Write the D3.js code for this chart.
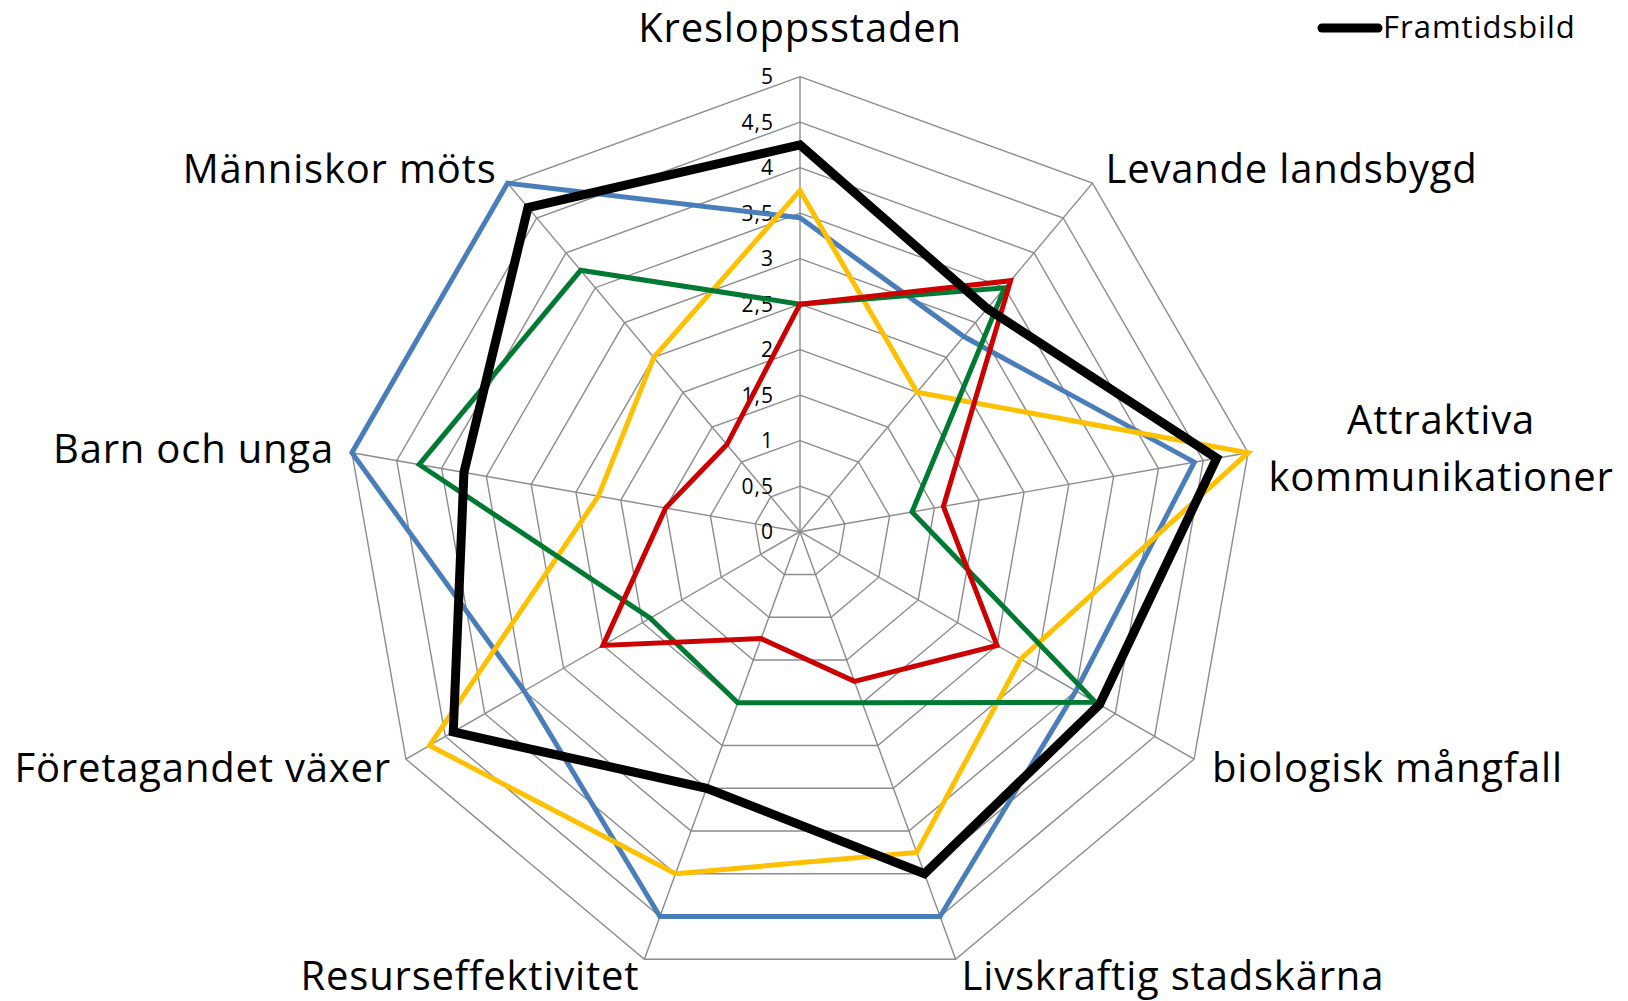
<!DOCTYPE html>
<html>
<head>
<meta charset="utf-8">
<script src="https://cdn.jsdelivr.net/npm/d3@7"></script>
<style>
  body { margin: 0; background: #fff; }
  text { font-family: "Open Sans", sans-serif; fill: #000; }
</style>
</head>
<body>
<svg id="chart"></svg>
<script>
// axes, clockwise from the top
const categories = ["Kresloppsstaden", "Levande landsbygd", "Attraktiva kommunikationer",
    "biologisk mångfall", "Livskraftig stadskärna", "Resurseffektivitet",
    "Företagandet växer", "Barn och unga", "Människor möts"];

const blueValues   = [3.45, 2.8, 4.4, 3.5, 4.5, 4.5, 3.5, 5, 5];
const yellowValues = [3.75, 2.0, 5.0, 2.8, 3.75, 4.0, 4.7, 2.25, 2.5];
const greenValues  = [2.5, 3.5, 1.25, 3.75, 2.0, 2.0, 1.9, 4.25, 3.75];
const redValues    = [2.5, 3.6, 1.6, 2.5, 1.75, 1.25, 2.5, 1.5, 1.25];
const blackValues  = [4.25, 3.2, 4.65, 3.8, 4.0, 3.0, 4.4, 3.75, 4.65];

const tickValues = [0, 0.5, 1, 1.5, 2, 2.5, 3, 3.5, 4, 4.5, 5];
const tickLabels = ["0", "0,5", "1", "1,5", "2", "2,5", "3", "3,5", "4", "4,5", "5"];

const legendLabel = "Framtidsbild";

const width = 1628, height = 1001;
const cx = 800, cy = 531.7, radius = 455;

const svg = d3.select('#chart')
    .attr('width', width)
    .attr('height', height);

const chart = svg.append('g')
    .attr('transform', `translate(${cx}, ${cy})`);

const rscale = d3.scaleLinear().domain([0, 5]).range([0, radius]);
const ascale = d3.scaleLinear().domain([0, categories.length]).range([0, 2 * Math.PI]);

const point = (v, i) => [rscale(v) * Math.sin(ascale(i)), -rscale(v) * Math.cos(ascale(i))];

// grid rings
const ring = d3.line().curve(d3.curveLinearClosed);
chart.append('g').selectAll('path')
    .data(tickValues.filter(d => d > 0))
    .enter()
    .append('path')
    .attr('d', v => ring(categories.map((c, i) => point(v, i))))
    .attr('fill', 'none')
    .attr('stroke', '#8c8c8c')
    .attr('stroke-width', 1.4);

// spokes
chart.append('g').selectAll('line')
    .data(categories)
    .enter()
    .append('line')
    .attr('x1', 0).attr('y1', 0)
    .attr('x2', (d, i) => point(5, i)[0])
    .attr('y2', (d, i) => point(5, i)[1])
    .attr('stroke', '#8c8c8c')
    .attr('stroke-width', 1.4);

// value labels along the top spoke
chart.append('g').selectAll('text')
    .data(tickValues)
    .enter()
    .append('text')
    .attr('x', -26)
    .attr('y', d => -rscale(d))
    .attr('dy', '0.36em')
    .attr('text-anchor', 'end')
    .style('font-size', '21px')
    .style('letter-spacing', '1px')
    .text((d, i) => tickLabels[i]);

// series
const series = [
    { values: blueValues,   color: '#4a7ebb', width: 5 },
    { values: yellowValues, color: '#ffc000', width: 5 },
    { values: greenValues,  color: '#007a33', width: 5 },
    { values: redValues,    color: '#cc0000', width: 5 },
    { values: blackValues,  color: '#000000', width: 9 }
];

chart.append('g').selectAll('path')
    .data(series)
    .enter()
    .append('path')
    .attr('d', s => ring(s.values.map((v, i) => point(v, i))))
    .attr('fill', 'none')
    .attr('stroke', s => s.color)
    .attr('stroke-width', s => s.width)
    .attr('stroke-linejoin', 'miter');

// category labels, placed relative to the outer vertex
const labelLayout = [
    { anchor: 'middle', dx: 0,   dy: -35 },
    { anchor: 'start',  dx: 13,  dy: 0 },
    { anchor: 'middle', dx: 193, dy: -19, wrap: true },
    { anchor: 'start',  dx: 18,  dy: 22.5 },
    { anchor: 'start',  dx: 6,   dy: 31 },
    { anchor: 'end',    dx: -5,  dy: 31 },
    { anchor: 'end',    dx: -15, dy: 22.5 },
    { anchor: 'end',    dx: -18, dy: 10.6 },
    { anchor: 'end',    dx: -11, dy: 0 }
];

const labels = chart.append('g').selectAll('text')
    .data(categories)
    .enter()
    .append('text')
    .attr('x', (d, i) => point(5, i)[0] + labelLayout[i].dx)
    .attr('y', (d, i) => point(5, i)[1] + labelLayout[i].dy)
    .attr('text-anchor', (d, i) => labelLayout[i].anchor)
    .style('font-size', '40px')
    .style('letter-spacing', '0.8px');

labels.each(function(d, i) {
    const t = d3.select(this);
    if (labelLayout[i].wrap) {
        const x = t.attr('x');
        d.split(' ').forEach((w, k) => {
            t.append('tspan').attr('x', x).attr('dy', k === 0 ? 0 : 57).text(w);
        });
    } else {
        t.text(d);
    }
});

// legend
const legend = svg.append('g')
    .attr('transform', 'translate(1322, 28)');

legend.append('line')
    .attr('x1', 0).attr('x2', 56)
    .attr('y1', 0).attr('y2', 0)
    .attr('stroke', '#000')
    .attr('stroke-width', 9)
    .attr('stroke-linecap', 'round');

legend.append('text')
    .attr('x', 61)
    .attr('y', 10)
    .style('font-size', '31px')
    .style('letter-spacing', '1px')
    .text(legendLabel);
</script>
</body>
</html>
